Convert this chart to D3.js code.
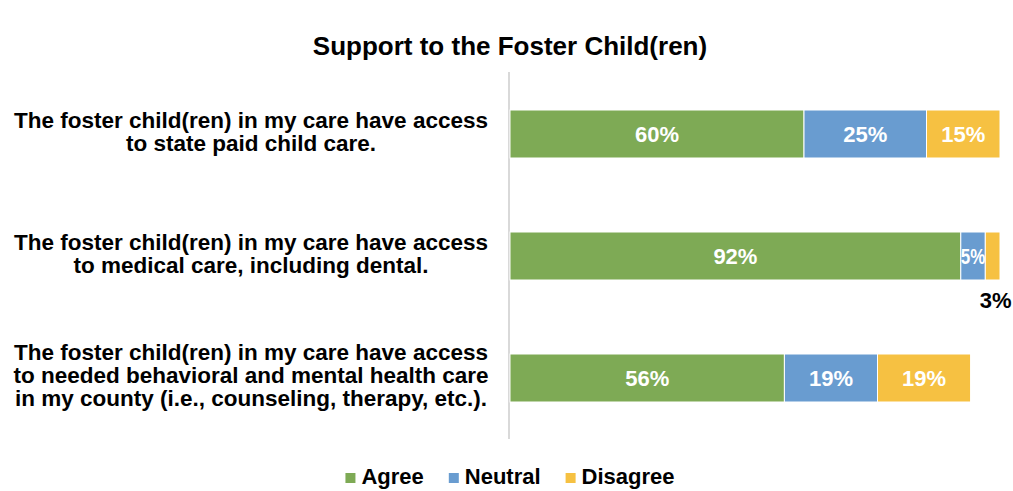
<!DOCTYPE html>
<html>
<head>
<meta charset="utf-8">
<script src="https://cdn.jsdelivr.net/npm/d3@7"></script>
<style>
  html, body { margin: 0; padding: 0; background: #ffffff; }
  svg { display: block; font-family: "Liberation Sans", Arial, Helvetica, sans-serif; font-weight: bold; }
</style>
</head>
<body>
<svg id="chart" width="1013" height="491"></svg>
<script>
// Survey statements (one per bar, already broken into display lines)
const categories = [
  "The foster child(ren) in my care have access to state paid child care.",
  "The foster child(ren) in my care have access to medical care, including dental.",
  "The foster child(ren) in my care have access to needed behavioral and mental health care in my county (i.e., counseling, therapy, etc.)."
];
const categoryLines = [
  ["The foster child(ren) in my care have access", "to state paid child care."],
  ["The foster child(ren) in my care have access", "to medical care, including dental."],
  ["The foster child(ren) in my care have access", "to needed behavioral and mental health care", "in my county (i.e., counseling, therapy, etc.)."]
];
const seriesNames = ["Agree", "Neutral", "Disagree"];
const agree    = [60, 92, 56];
const neutral  = [25, 5, 19];
const disagree = [15, 3, 19];
const colors = ["#7eaa55", "#699cd0", "#f6c142"];
const title = "Support to the Foster Child(ren)";

const svg = d3.select("#chart");

const rows = categories.map((c, i) => ({
  cat: c, lines: categoryLines[i],
  Agree: agree[i], Neutral: neutral[i], Disagree: disagree[i]
}));
const stacked = d3.stack().keys(seriesNames)(rows);

const x = d3.scaleLinear().domain([0, 100]).range([510, 1000]);
const y = d3.scaleBand().domain(categories).range([73, 439])
  .paddingInner(0.6066).paddingOuter(0.3033);
const color = d3.scaleOrdinal().domain(seriesNames).range(colors);

// Title
svg.append("text")
  .attr("x", 510).attr("y", 55)
  .attr("text-anchor", "middle")
  .attr("font-size", 26)
  .attr("fill", "#000")
  .text(title);

// Vertical category axis line
svg.append("line")
  .attr("x1", x(0) - 1).attr("x2", x(0) - 1)
  .attr("y1", 72).attr("y2", 439)
  .attr("stroke", "#d9d9d9").attr("stroke-width", 2);

// Stacked segments
const layer = svg.append("g").selectAll("g")
  .data(stacked).join("g")
  .attr("fill", d => color(d.key));

layer.selectAll("rect")
  .data(d => d.map(s => ({ s, key: d.key })))
  .join("rect")
  .attr("x", d => x(d.s[0]))
  .attr("y", d => y(d.s.data.cat))
  .attr("width", d => x(d.s[1]) - x(d.s[0]))
  .attr("height", y.bandwidth())
  .attr("stroke", "#ffffff").attr("stroke-width", 1);

// Value labels
const labelSize = 22;
stacked.forEach(series => {
  series.forEach(s => {
    const v = s[1] - s[0];
    const x0 = x(s[0]), x1 = x(s[1]);
    const w = x1 - x0;
    const cy = y(s.data.cat) + y.bandwidth() / 2;
    const txt = v + "%";
    if (w < 20) {
      // too narrow: label sits below the bar end
      svg.append("text")
        .attr("x", (x0 + x1) / 2 + 3)
        .attr("y", y(s.data.cat) + y.bandwidth() + 28)
        .attr("text-anchor", "middle")
        .attr("font-size", labelSize)
        .attr("fill", "#000")
        .text(txt);
    } else {
      const t = svg.append("text")
        .attr("x", (x0 + x1) / 2)
        .attr("y", cy + 8)
        .attr("text-anchor", "middle")
        .attr("font-size", labelSize)
        .attr("fill", "#fff")
        .text(txt);
      const len = t.node().getComputedTextLength();
      if (len > w) {
        t.attr("textLength", w).attr("lengthAdjust", "spacingAndGlyphs");
      }
    }
  });
});

// Category labels (centred, multi-line)
const lineH = 23;
rows.forEach(r => {
  const cy = y(r.cat) + y.bandwidth() / 2;
  const n = r.lines.length;
  const t = svg.append("text")
    .attr("text-anchor", "middle")
    .attr("font-size", 22.5)
    .attr("fill", "#000");
  r.lines.forEach((ln, j) => {
    t.append("tspan")
      .attr("x", 251)
      .attr("y", cy + (j - (n - 1) / 2) * lineH + 5)
      .text(ln);
  });
});

// Legend
const legend = svg.append("g");
const legSize = 22;
let lx = 0;
seriesNames.forEach(name => {
  const g = legend.append("g").attr("transform", `translate(${lx},0)`);
  g.append("rect").attr("x", 0).attr("y", -11).attr("width", 10).attr("height", 10)
    .attr("fill", color(name));
  const t = g.append("text").attr("x", 16).attr("y", 0)
    .attr("font-size", legSize).attr("fill", "#000").text(name);
  const w = t.node().getComputedTextLength();
  lx += 16 + w + 25;
});
const legW = lx - 25;
legend.attr("transform", `translate(${510 - legW / 2},484)`);
</script>
</body>
</html>
